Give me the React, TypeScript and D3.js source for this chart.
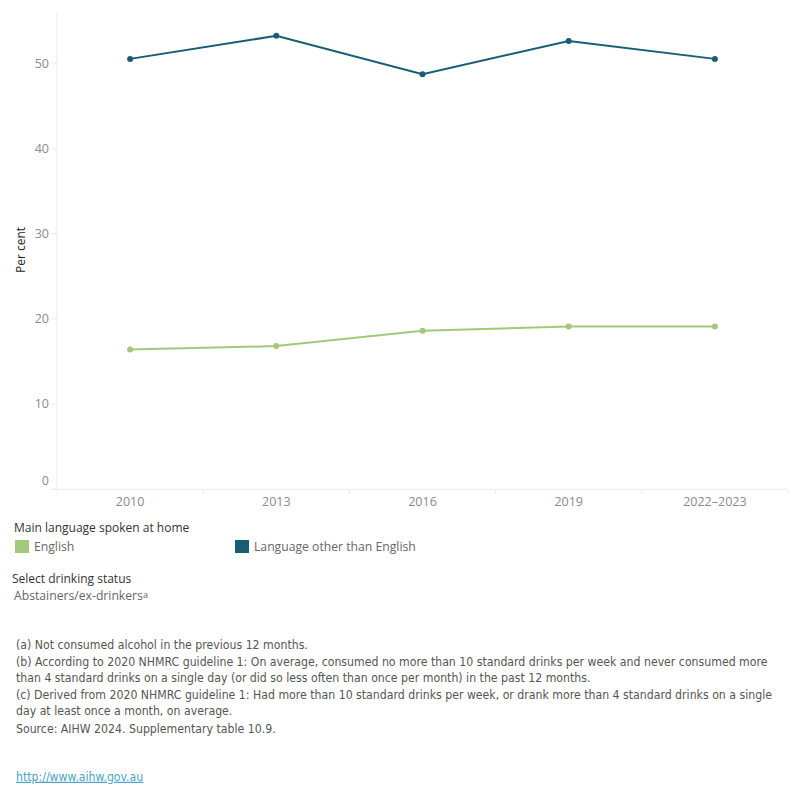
import React from "react";
import * as d3 from "d3";

const WIDTH = 800;
const HEIGHT = 800;

const years = ["2010", "2013", "2016", "2019", "2022–2023"];
const english = [16.4, 16.8, 18.6, 19.1, 19.1];
const otherLang = [50.5, 53.2, 48.7, 52.6, 50.5];
const yTicks = [0, 10, 20, 30, 40, 50];

const GREEN = "#a2c97a";
const TEAL = "#175d73";

const footnotes = [
  "(a) Not consumed alcohol in the previous 12 months.",
  "(b) According to 2020 NHMRC guideline 1: On average, consumed no more than 10 standard drinks per week and never consumed more",
  "than 4 standard drinks on a single day (or did so less often than once per month) in the past 12 months.",
  "(c) Derived from 2020 NHMRC guideline 1: Had more than 10 standard drinks per week, or drank more than 4 standard drinks on a single",
  "day at least once a month, on average.",
  "Source: AIHW 2024. Supplementary table 10.9.",
];

const FONT = "'Open Sans', 'DejaVu Sans', sans-serif";
const NARROW = "'Liberation Sans Narrow', 'DejaVu Sans Condensed', sans-serif";

export default function App() {
  const x = d3.scaleBand<string>().domain(years).range([57, 788]);
  const y = d3.scaleLinear().domain([0, 56]).range([489.3, 12]);
  const cx = (d: string) => (x(d) ?? 0) + x.bandwidth() / 2;

  const line = d3
    .line<number>()
    .x((_, i) => cx(years[i]))
    .y((v) => y(v));

  const series = [
    { name: "English", values: english, color: GREEN },
    { name: "Language other than English", values: otherLang, color: TEAL },
  ];

  const bandEdges = [...years.map((d) => x(d) ?? 0), x.range()[1]];

  return (
    <div style={{ position: "absolute", left: 0, top: 0 }}>
      <svg width={WIDTH} height={HEIGHT} style={{ display: "block", background: "#fff" }}>
        {/* axes */}
        <line x1={57} x2={57} y1={12} y2={489.3} stroke="#ebebeb" />
        <line x1={51} x2={788} y1={489.3} y2={489.3} stroke="#ebebeb" />
        {yTicks.map((t) => (
          <g key={t}>
            <line x1={52} x2={57} y1={y(t)} y2={y(t)} stroke="#ebebeb" />
            <text
              x={49}
              y={t === 0 ? y(t) - 8.5 : y(t)}
              dy="0.35em"
              textAnchor="end"
              fontFamily={FONT}
              fontSize={12.5}
              fill="#8a8a8a"
            >
              {t}
            </text>
          </g>
        ))}
        {bandEdges.map((e, i) => (
          <line key={i} x1={e} x2={e} y1={489.3} y2={494} stroke="#ebebeb" />
        ))}
        {years.map((d) => (
          <text
            key={d}
            x={cx(d)}
            y={502}
            dy="0.35em"
            textAnchor="middle"
            fontFamily={FONT}
            fontSize={12.5}
            fill="#8a8a8a"
          >
            {d}
          </text>
        ))}
        <text
          transform="translate(21,250) rotate(-90)"
          textAnchor="middle"
          dy="0.35em"
          fontFamily={FONT}
          fontSize={12}
          fill="#222"
        >
          Per cent
        </text>

        {/* lines */}
        {series.map((s) => (
          <g key={s.name}>
            <path d={line(s.values) || ""} fill="none" stroke={s.color} strokeWidth={2} />
            {s.values.map((v, i) => (
              <circle key={i} cx={cx(years[i])} cy={y(v)} r={3} fill={s.color} />
            ))}
          </g>
        ))}

        {/* legend */}
        <text x={14} y={528} dy="0.35em" fontFamily={FONT} fontSize={12} fill="#333">
          Main language spoken at home
        </text>
        {series.map((s, i) => (
          <g key={s.name} transform={`translate(${i === 0 ? 15 : 235},540)`}>
            <rect width={14} height={13} fill={s.color} />
            <text x={19} y={7} dy="0.35em" fontFamily={FONT} fontSize={12.2} fill="#666">
              {s.name}
            </text>
          </g>
        ))}
        <text x={12} y={579} dy="0.35em" fontFamily={FONT} fontSize={12} fill="#333">
          Select drinking status
        </text>
        <text x={14} y={596} dy="0.35em" fontFamily={FONT} fontSize={12.2} fill="#666">
          Abstainers/ex-drinkers
          <tspan fontSize={9} dy="-0.25em">a</tspan>
        </text>

        {/* footnotes */}
        {footnotes.map((f, i) => (
          <text
            key={i}
            x={16}
            y={[645, 662, 678, 695, 711, 728.5][i]}
            dy="0.35em"
            fontFamily={NARROW}
            fontSize={12.2}
            fill="#555"
          >
            {f}
          </text>
        ))}
        <text
          x={16}
          y={776.5}
          dy="0.35em"
          fontFamily={NARROW}
          fontSize={12.2}
          fill="#4aa3c8"
          textDecoration="underline"
        >
          http://www.aihw.gov.au
        </text>
      </svg>
    </div>
  );
}
